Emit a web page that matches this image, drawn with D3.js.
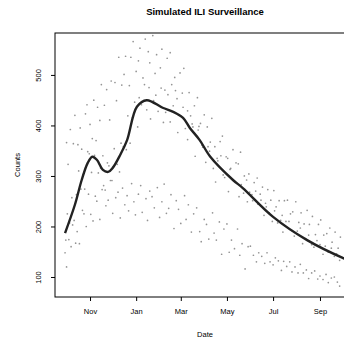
<!DOCTYPE html>
<html>
<head>
<meta charset="utf-8">
<script src="https://cdn.jsdelivr.net/npm/d3@7"></script>
<style>
  html, body { margin: 0; padding: 0; background: #fff; }
  svg { display: block; font-family: "Liberation Sans", Arial, sans-serif; }
</style>
</head>
<body>
<svg id="chart" width="344" height="342"></svg>
<script>
// Season runs from late September; each point is [days since season start, count].
const seasonStart = new Date(2012, 8, 29);

const monthTicks = ["2012-11-01", "2013-01-01", "2013-03-01", "2013-05-01", "2013-07-01", "2013-09-01"];
const monthLabels = ["Nov", "Jan", "Mar", "May", "Jul", "Sep"];
const countTicks = [100, 200, 300, 400, 500];

// Daily reports from the high-incidence sites
const siteHigh = [[2,366],[4,323],[7,392],[11,364],[13,420],[17,362],[20,395],[22,353],[27,423],[29,441],[33,402],[36,374],[38,450],[43,436],[46,410],[48,481],[52,440],[55,471],[59,411],[61,488],[66,485],[68,449],[71,535],[75,480],[78,501],[80,537],[85,479],[87,535],[90,566],[94,507],[97,528],[99,553],[103,494],[106,571],[110,546],[112,524],[116,578],[119,503],[121,540],[126,514],[128,551],[132,470],[135,533],[139,544],[141,481],[145,495],[148,453],[152,504],[155,464],[157,513],[162,429],[164,465],[168,403],[171,439],[175,455],[177,398],[181,361],[184,421],[188,397],[191,349],[194,414],[198,358],[201,335],[205,368],[208,379],[211,297],[215,335],[218,313],[222,352],[225,289],[229,324],[232,347],[236,266],[240,292],[243,304],[247,263],[250,287],[254,296],[258,264],[261,278],[265,246],[268,273],[272,252],[276,271],[279,239],[283,251],[287,222],[290,251],[294,252],[298,225],[301,229],[305,249],[309,208],[312,227],[316,205],[320,232],[323,204],[327,220],[331,184],[335,204],[338,213],[342,183],[346,186],[350,197],[353,169],[357,189],[361,157],[364,179]];

// Daily reports from the mid-incidence sites
const siteMid = [[1,173],[3,225],[6,207],[9,257],[12,212],[15,263],[18,310],[21,274],[24,303],[26,274],[30,348],[32,344],[35,307],[39,341],[41,370],[44,306],[47,316],[50,340],[53,272],[56,326],[58,320],[62,291],[65,354],[69,323],[72,308],[74,365],[77,358],[81,352],[83,419],[86,365],[89,415],[92,446],[96,397],[98,455],[101,441],[105,481],[108,431],[111,475],[113,413],[117,449],[120,460],[123,428],[127,474],[130,406],[133,426],[136,461],[139,407],[143,439],[146,469],[149,386],[153,419],[156,436],[159,394],[162,372],[166,419],[169,397],[172,339],[176,391],[179,404],[182,357],[186,327],[189,358],[192,367],[196,315],[199,288],[202,330],[206,340],[209,302],[213,338],[216,269],[219,315],[223,290],[226,326],[230,259],[233,283],[237,300],[241,249],[244,268],[248,251],[252,270],[255,244],[259,252],[263,222],[266,239],[270,227],[274,210],[277,231],[281,207],[285,212],[288,189],[292,210],[296,210],[300,192],[303,181],[307,191],[311,197],[314,166],[318,176],[322,183],[326,164],[329,159],[333,172],[337,164],[341,145],[344,161],[348,149],[352,157],[356,141],[359,146],[363,133]];

// Daily reports from the low-incidence sites
const siteLow = [[0,148],[2,120],[5,174],[8,160],[10,203],[14,167],[16,190],[19,166],[23,232],[25,225],[28,200],[31,264],[34,224],[37,211],[40,260],[42,250],[46,214],[49,273],[51,281],[54,241],[57,252],[60,291],[63,226],[67,257],[70,268],[73,217],[76,276],[79,243],[82,261],[84,231],[88,285],[91,249],[93,223],[97,264],[100,281],[102,228],[107,255],[109,212],[112,270],[115,259],[118,237],[122,277],[125,218],[128,249],[131,284],[134,226],[137,236],[140,263],[144,196],[147,251],[150,234],[153,206],[158,261],[160,214],[163,243],[167,189],[170,225],[174,237],[178,190],[180,170],[184,214],[187,204],[190,175],[195,227],[197,187],[200,173],[204,209],[207,145],[210,195],[214,205],[217,149],[220,173],[224,156],[228,195],[231,143],[234,166],[238,116],[242,160],[245,161],[249,143],[253,130],[256,148],[260,141],[264,127],[267,148],[271,130],[275,124],[278,138],[282,132],[286,113],[289,131],[293,121],[297,130],[300,110],[304,120],[308,108],[311,125],[315,108],[319,114],[322,97],[326,108],[330,112],[334,96],[337,102],[341,95],[345,105],[348,89],[352,98],[356,100],[360,90],[363,82]];

// Smoothed trend across all sites
const trendDay   = [0, 13, 22, 30, 36, 42, 50, 57, 63, 73, 82, 95, 108, 129, 143, 156, 165, 178, 192, 222, 235, 275, 320, 367, 385];
const trendCount = [187, 243, 292, 326, 338, 332, 312, 308, 316, 342, 371, 437, 450, 435, 427, 415, 395, 371, 338, 292, 276, 219, 173, 138, 128];

const svg = d3.select("#chart");
const plot = { left: 55, right: 355, top: 33, bottom: 297 };

const dayToDate = d => d3.timeDay.offset(seasonStart, d);

const x = d3.scaleTime()
  .domain([new Date(2012, 8, 15, 17), new Date(2013, 9, 17, 7)])
  .range([plot.left, plot.right]);

const y = d3.scaleLinear()
  .domain([60.4, 583])
  .range([plot.bottom, plot.top]);

svg.append("defs").append("clipPath").attr("id", "plot-clip")
  .append("rect")
  .attr("x", plot.left).attr("y", plot.top)
  .attr("width", plot.right - plot.left).attr("height", plot.bottom - plot.top);

const pointsLayer = svg.append("g").attr("clip-path", "url(#plot-clip)");

[siteHigh, siteMid, siteLow].forEach(series => {
  pointsLayer.selectAll(null)
    .data(series)
    .enter().append("circle")
    .attr("cx", d => x(dayToDate(d[0])))
    .attr("cy", d => y(d[1]))
    .attr("r", 0.85)
    .attr("fill", "#666")
    .attr("fill-opacity", 0.7);
});

const trend = trendDay.map((d, i) => [d, trendCount[i]]);
pointsLayer.append("path")
  .datum(trend)
  .attr("fill", "none")
  .attr("stroke", "#222")
  .attr("stroke-width", 2.4)
  .attr("stroke-linejoin", "round")
  .attr("d", d3.line()
    .x(d => x(dayToDate(d[0])))
    .y(d => y(d[1]))
    .curve(d3.curveCatmullRom.alpha(0.5)));

// Plot frame
svg.append("rect")
  .attr("x", plot.left).attr("y", plot.top)
  .attr("width", plot.right - plot.left).attr("height", plot.bottom - plot.top)
  .attr("fill", "none").attr("stroke", "#000").attr("stroke-width", 1);

// Bottom axis
const parseDay = d3.timeParse("%Y-%m-%d");
const xAxis = d3.axisBottom(x)
  .tickValues(monthTicks.map(parseDay))
  .tickFormat((d, i) => monthLabels[i])
  .tickSize(4)
  .tickPadding(8);
const gx = svg.append("g").attr("transform", `translate(0,${plot.bottom})`).call(xAxis);
gx.select(".domain").remove();
gx.selectAll("text").attr("font-size", 7.5).attr("font-family", "Liberation Sans, Arial, sans-serif").attr("fill", "#000");

// Left axis with labels running along the axis
const yAxis = d3.axisLeft(y).tickValues(countTicks).tickSize(4).tickFormat(d3.format("d"));
const gy = svg.append("g").attr("transform", `translate(${plot.left},0)`).call(yAxis);
gy.select(".domain").remove();
gy.selectAll("text")
  .attr("font-size", 7.5)
  .attr("font-family", "Liberation Sans, Arial, sans-serif")
  .attr("fill", "#000")
  .attr("x", null).attr("dy", null)
  .attr("text-anchor", "middle")
  .attr("transform", "translate(-14,0) rotate(-90)");

// Titles
svg.append("text")
  .attr("x", (plot.left + plot.right) / 2).attr("y", 15)
  .attr("text-anchor", "middle")
  .attr("font-size", 9.5).attr("font-weight", "bold")
  .text("Simulated ILI Surveillance");

svg.append("text")
  .attr("x", (plot.left + plot.right) / 2).attr("y", 337)
  .attr("text-anchor", "middle")
  .attr("font-size", 7.5)
  .text("Date");

svg.append("text")
  .attr("transform", `translate(20,${(plot.top + plot.bottom) / 2}) rotate(-90)`)
  .attr("text-anchor", "middle")
  .attr("font-size", 7.5)
  .text("Counts");
</script>
</body>
</html>
